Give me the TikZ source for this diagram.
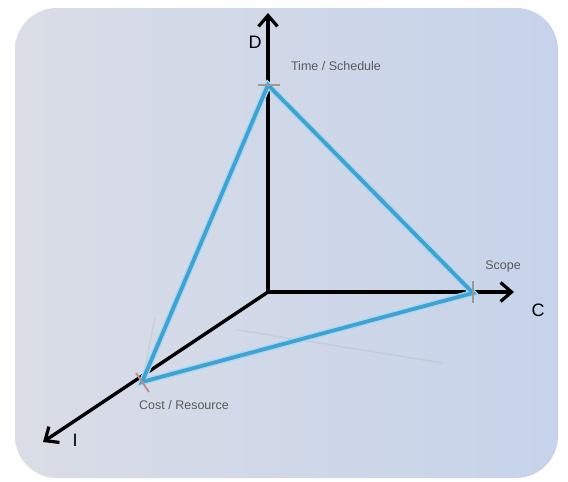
\documentclass[tikz,border=0pt]{standalone}
\usepackage{fontspec}
\setmainfont{Liberation Sans}
\usetikzlibrary{arrows.meta}
\definecolor{edgeblue}{HTML}{3FA2D2}
\definecolor{halo}{HTML}{A8D8F0}
\definecolor{boxleft}{HTML}{DADDE6}
\definecolor{boxright}{HTML}{C6D3EA}
\definecolor{labelgray}{HTML}{5A5A5A}
\tikzset{
  axis/.style={line width=3.4pt, black, -{Straight Barb[length=11pt,width=19pt,line width=3.2pt]}},
  edgehalo/.style={line width=6.5pt, halo, line cap=round},
  edgeline/.style={line width=3.8pt, edgeblue, line cap=round},
  ptlabel/.style={font=\fontsize{12.5}{14}\selectfont, text=labelgray, inner sep=0pt},
  axlabel/.style={font=\fontsize{18}{20}\selectfont, text=black, inner sep=0pt},
  tick/.style={line width=1.8pt},
  faint/.style={line width=1.5pt, gray, opacity=0.12}
}
\begin{document}
\begin{tikzpicture}[x=1pt,y=-1pt]
\useasboundingbox (0,0) rectangle (568,482);
\fill[white] (0,0) rectangle (568,482);
\shade[left color=boxleft, right color=boxright, rounded corners=42pt] (15,8) rectangle (558,478);

% points
\coordinate (O) at (268,292);
\coordinate (Dtip) at (268,13);
\coordinate (Ctip) at (514,292);
\coordinate (Itip) at (43,442);
\coordinate (T) at (268,85);
\coordinate (S) at (473,293);
\coordinate (P) at (142,382);
\coordinate (f1) at (155,318);
\coordinate (f2) at (238,330);
\coordinate (f3) at (443,363);

% faint reflections
\draw[faint] (P) -- (f1);
\draw[faint] (f2) -- (f3);

% axes
\draw[axis] (O) -- (Dtip);
\draw[axis] (O) -- (Ctip);
\draw[axis] (O) -- (Itip);

% triangle
\draw[edgehalo] (T) -- (S) -- (P) -- cycle;
\draw[edgeline] (T) -- (S) -- (P) -- cycle;

% ticks
\draw[tick, color=gray!80] ([xshift=-10pt]T) -- ([xshift=12pt]T);
\draw[tick, color=gray!80] ([yshift=-10pt]S) -- ([yshift=12pt]S);
\draw[tick, color=red!30!gray!70] ([shift={(-6pt,9pt)}]P) -- ([shift={(7pt,-10pt)}]P);

% labels
\node[axlabel] (Dl) at (255,42) {D};
\node[axlabel] (Cl) at (538,310) {C};
\node[axlabel] (Il) at (75,440) {I};
\node[ptlabel] (Tl) at (336,66) {Time / Schedule};
\node[ptlabel] (Sl) at (503,266) {Scope};
\node[ptlabel] (Pl) at (184,405) {Cost / Resource};
\end{tikzpicture}
\end{document}
